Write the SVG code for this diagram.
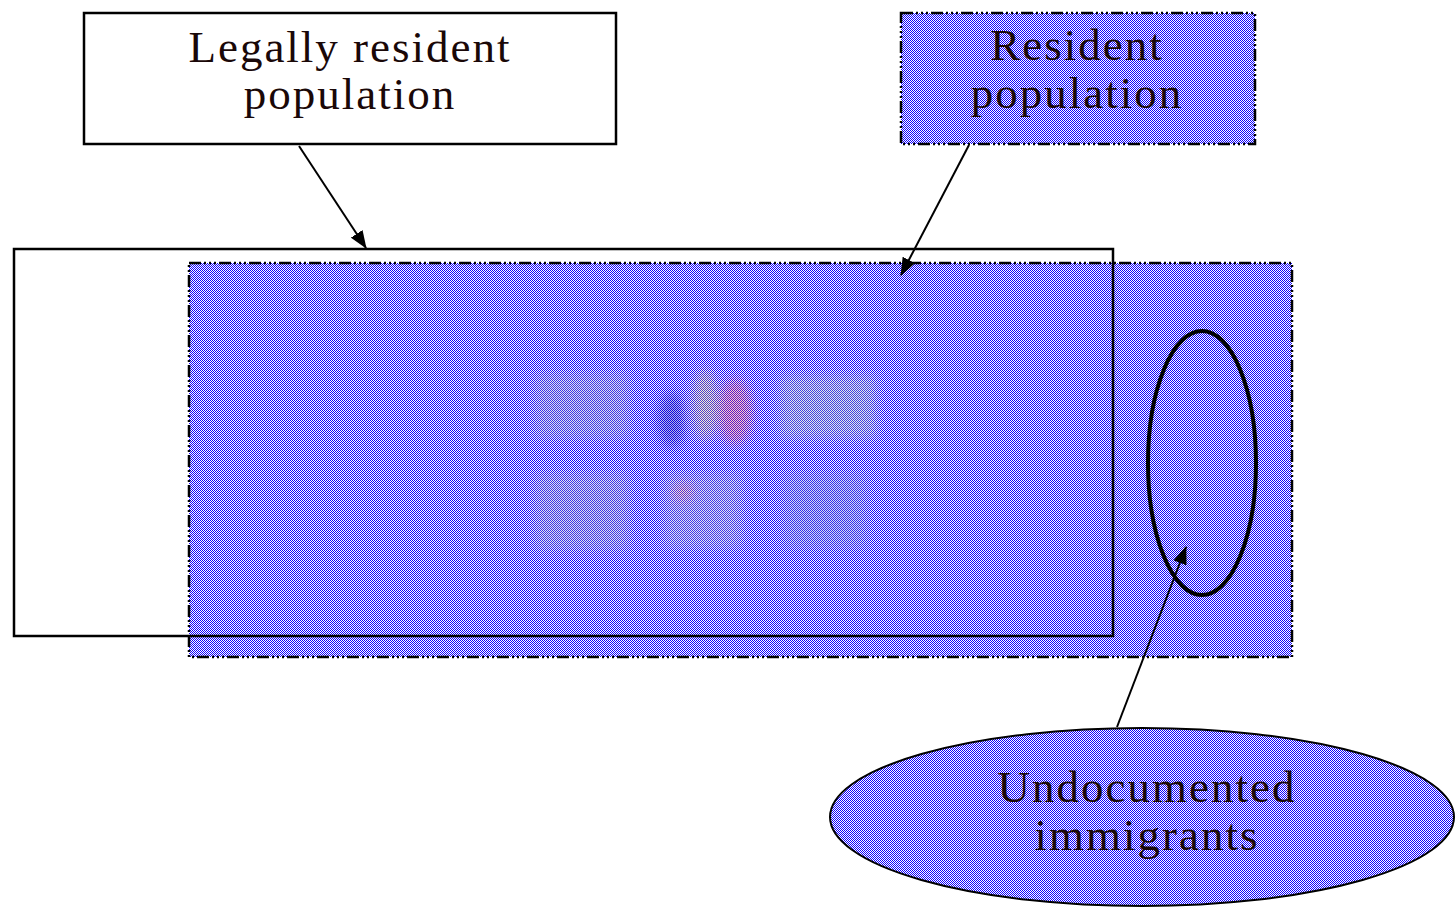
<svg xmlns="http://www.w3.org/2000/svg" width="1455" height="909" viewBox="0 0 1455 909">
  <defs>
    <!-- 1px blue/white checker fill -->
    <pattern id="checker" patternUnits="userSpaceOnUse" width="2" height="2">
      <rect x="0" y="0" width="2" height="2" fill="#ffffff"/>
      <rect x="0" y="0" width="1" height="1" fill="#1000ff"/>
      <rect x="1" y="1" width="1" height="1" fill="#1000ff"/>
    </pattern>
    <marker id="arrow" viewBox="0 0 18 14" refX="17" refY="7" markerWidth="18" markerHeight="14" markerUnits="userSpaceOnUse" orient="auto">
      <path d="M0,0 L18,7 L0,14 Z" fill="#000"/>
    </marker>
    <filter id="haze" x="-50%" y="-50%" width="200%" height="200%">
      <feGaussianBlur stdDeviation="6"/>
    </filter>
  </defs>
  <style>
    .label { font-family: "Liberation Serif", "Times New Roman", serif; font-size: 45px; letter-spacing: 2px; fill: #1a0808; text-anchor: middle; }
    .plain { fill: #ffffff; stroke: #000; stroke-width: 2.5; }
    .outline { fill: none; stroke: #000; stroke-width: 2.5; }
    .hatched { fill: url(#checker); stroke: #000; stroke-width: 2.5; stroke-dasharray: 12 3 2 3 2 3 2 3; }
    .conn { fill: none; stroke: #000; stroke-width: 2; marker-end: url(#arrow); }
  </style>

  <rect width="1455" height="909" fill="#ffffff"/>

  <!-- population areas -->
  <g id="legal-area-fill">
    <rect x="14" y="249" width="1099" height="387" fill="#ffffff"/>
  </g>
  <g id="resident-area">
    <rect class="hatched" x="189" y="263" width="1103" height="394"/>
    <!-- faded emblem inside the area -->
    <g filter="url(#haze)" opacity="0.3">
      <rect x="535" y="374" width="94" height="64" fill="#a0a8c0"/>
      <rect x="535" y="474" width="94" height="76" fill="#a0a8c0"/>
      <ellipse cx="672" cy="420" rx="14" ry="28" fill="#0000a0"/>
      <ellipse cx="705" cy="405" rx="12" ry="36" fill="#e0d060"/>
      <ellipse cx="735" cy="412" rx="17" ry="33" fill="#ff5050"/>
      <rect x="780" y="376" width="96" height="62" fill="#b0c8b0"/>
      <rect x="664" y="474" width="78" height="74" fill="#a8b0c8"/>
      <ellipse cx="683" cy="492" rx="10" ry="9" fill="#ff9030"/>
      <rect x="784" y="474" width="82" height="74" fill="#8090d0"/>
    </g>
  </g>
  <g id="legal-area">
    <rect class="outline" x="14" y="249" width="1099" height="387"/>
  </g>
  <g id="undocumented-subset">
    <ellipse cx="1202" cy="463" rx="54" ry="132" fill="none" stroke="#000" stroke-width="4"/>
  </g>

  <!-- labels -->
  <g id="legal-label">
    <rect class="plain" x="84" y="13" width="532" height="131"/>
    <text class="label" x="350" y="62">Legally resident</text>
    <text class="label" x="350" y="109">population</text>
  </g>
  <g id="resident-label">
    <rect class="hatched" x="901" y="13" width="354" height="131"/>
    <text class="label" x="1077" y="60">Resident</text>
    <text class="label" x="1077" y="108">population</text>
  </g>
  <g id="undocumented-label">
    <ellipse class="hatched" cx="1142" cy="817" rx="312" ry="89" style="stroke-dasharray:none;stroke-width:2"/>
    <text class="label" x="1147" y="802">Undocumented</text>
    <text class="label" x="1147" y="850">immigrants</text>
  </g>

  <!-- connectors -->
  <g id="connectors">
    <line class="conn" x1="299" y1="146" x2="366" y2="248"/>
    <line class="conn" x1="969" y1="145" x2="901" y2="275"/>
    <line class="conn" x1="1117" y1="727" x2="1186" y2="547"/>
  </g>
</svg>
